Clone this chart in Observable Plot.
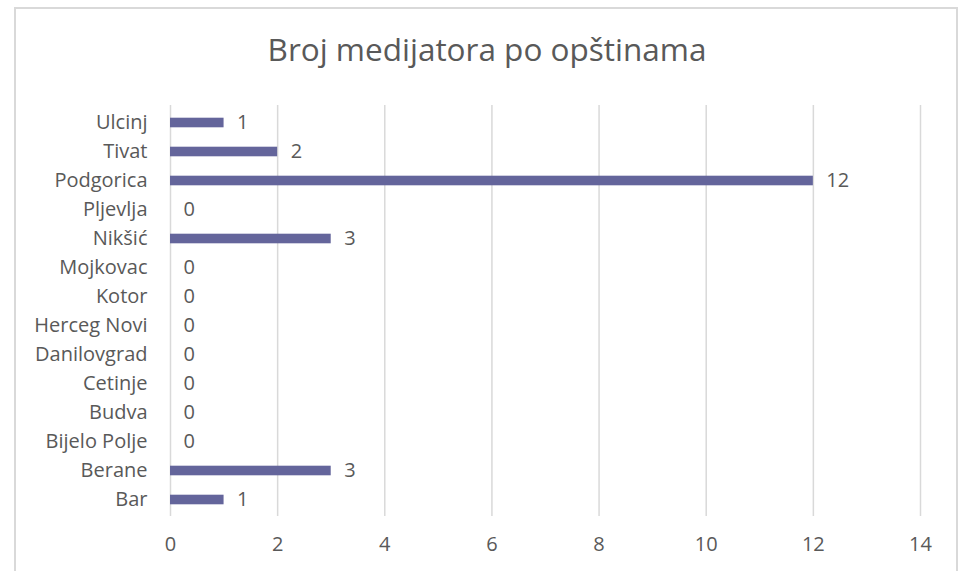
<!DOCTYPE html>
<html>
<head>
<meta charset="utf-8">
<script src="https://cdn.jsdelivr.net/npm/d3@7"></script>
<script src="https://cdn.jsdelivr.net/npm/@observablehq/plot@0.6"></script>
<style>
  html, body { margin: 0; padding: 0; background: #fff; }
  body { width: 966px; height: 571px; position: relative; overflow: hidden; font-family: "Open Sans", sans-serif; }
  #frame { position: absolute; left: 14px; top: 7px; width: 944px; height: 580px; border: 2px solid #d9d9d9; box-sizing: border-box; }
  #title { position: absolute; left: 0; width: 974px; top: 28px; text-align: center; font-size: 31.5px; line-height: 1.362; color: #595959; }
  #chart { position: absolute; left: 0; top: 0; }
</style>
</head>
<body>
<div id="frame"></div>
<div id="title">Broj medijatora po opštinama</div>
<div id="chart"></div>
<script>
const municipalities = ["Ulcinj", "Tivat", "Podgorica", "Pljevlja", "Nikšić", "Mojkovac", "Kotor", "Herceg Novi", "Danilovgrad", "Cetinje", "Budva", "Bijelo Polje", "Berane", "Bar"];
const mediators = [1, 2, 12, 0, 3, 0, 0, 0, 0, 0, 0, 0, 3, 1];
const xTicks = [0, 2, 4, 6, 8, 10, 12, 14];

const data = municipalities.map((name, i) => ({name, value: mediators[i]}));

const plot = Plot.plot({
  width: 966,
  height: 571,
  marginLeft: 170,
  marginRight: 46,
  marginTop: 105,
  marginBottom: 55,
  style: {fontFamily: "Open Sans, sans-serif", fontSize: "20px", color: "#595959", background: "transparent"},
  x: {domain: [0, 14], ticks: xTicks, label: null},
  y: {domain: municipalities, padding: 0, label: null},
  marks: [
    Plot.gridX(xTicks, {stroke: "#d9d9d9", strokeOpacity: 1, strokeWidth: 1.5}),
    Plot.barX(data, {x: "value", y: "name", fill: "#64659b", insetTop: 9.7, insetBottom: 9.7}),
    Plot.text(data, {x: "value", y: "name", text: d => String(d.value), textAnchor: "start", dx: 13, fill: "#595959", fontSize: 20}),
    Plot.axisX(xTicks, {tickSize: 0, tickPadding: 20, fontSize: 20, fill: "#595959", label: null}),
    Plot.axisY({tickSize: 0, tickPadding: 23, fontSize: 20, fill: "#595959", label: null})
  ]
});
document.getElementById("chart").appendChild(plot);
</script>
</body>
</html>
